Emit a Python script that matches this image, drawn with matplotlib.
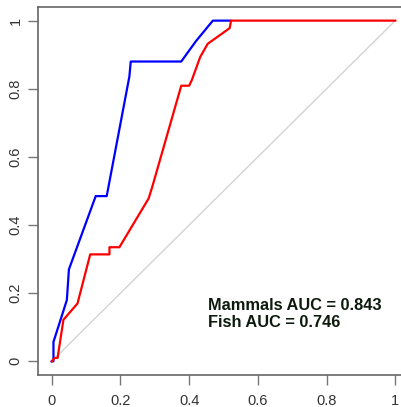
import matplotlib
matplotlib.use("Agg")
import matplotlib.pyplot as plt

# ROC curves
mammals_fpr = [0.0, 0.005, 0.005, 0.044, 0.05, 0.128, 0.16, 0.226, 0.23, 0.377, 0.42, 0.469, 0.52]
mammals_tpr = [0.0, 0.0, 0.057, 0.18, 0.27, 0.485, 0.485, 0.836, 0.88, 0.88, 0.94, 1.0, 1.0]

fish_fpr = [0.0, 0.008, 0.017, 0.034, 0.075, 0.112, 0.168, 0.168, 0.197, 0.282, 0.292,
            0.377, 0.40, 0.408, 0.432, 0.454, 0.518, 0.522, 1.0]
fish_tpr = [0.0, 0.01, 0.01, 0.122, 0.17, 0.314, 0.314, 0.335, 0.335, 0.478, 0.51,
            0.809, 0.809, 0.826, 0.893, 0.932, 0.978, 1.0, 1.0]

labels = ["Mammals AUC = 0.843", "Fish AUC = 0.746"]
ticks = [0, 0.2, 0.4, 0.6, 0.8, 1]
tick_labels = ["0", "0.2", "0.4", "0.6", "0.8", "1"]

plt.rcParams['font.family'] = ['Liberation Sans', 'DejaVu Sans']

fig = plt.figure(figsize=(4.02, 4.07), dpi=100)
# right edge of the box falls outside the image, as in the reference
ax = fig.add_axes([38/402, 1 - 375/407, 371/402, 368/407])

ax.plot([0, 1], [0, 1], color='#d3d3d3', lw=1)
ax.plot(mammals_fpr, mammals_tpr, color='blue', lw=1.6)
ax.plot(fish_fpr, fish_tpr, color='red', lw=1.6)

ax.set_xlim(-0.04, 1.04)
ax.set_ylim(-0.04, 1.04)
ax.set_xticks(ticks)
ax.set_xticklabels(tick_labels)
ax.set_yticks(ticks)
ax.set_yticklabels(tick_labels, rotation=90, va='center')
ax.tick_params(length=7, width=1, color='#777777', labelcolor='#333333', labelsize=10.5)
ax.tick_params(axis='x', pad=7)
ax.tick_params(axis='y', pad=4)

for s in ax.spines.values():
    s.set_color('#666666')
    s.set_linewidth(1.2)

ax.text(0.456, 0.185, labels[0] + "\n" + labels[1], fontsize=11.8, fontweight='bold',
        color='#0d1a0d', va='top', ha='left', linespacing=1.1)

fig.savefig("out.png", dpi=100)
